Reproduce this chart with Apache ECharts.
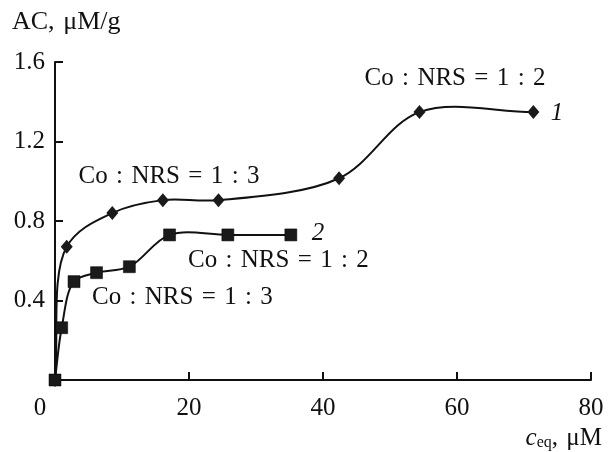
<!DOCTYPE html>
<html><head><meta charset="utf-8">
<script src="https://cdn.jsdelivr.net/npm/echarts@6/dist/echarts.min.js"></script>
<style>html,body{margin:0;padding:0;background:#fff}#c{width:608px;height:452px}</style>
</head><body><div id="c"></div>
<script>
// Data
const ceq1 = [0, 1.75, 8.55, 16.1, 24.4, 42.4, 54.4, 71.4];
const ac1  = [0, 0.67, 0.84, 0.905, 0.905, 1.015, 1.348, 1.348];
const ceq2 = [0, 1.0, 2.84, 6.2, 11.1, 17.1, 25.8, 35.2];
const ac2  = [0, 0.263, 0.495, 0.54, 0.57, 0.73, 0.73, 0.73];
const xTicks = [0, 20, 40, 60, 80];
const yTicks = [0.4, 0.8, 1.2, 1.6];
const SP = '\u2004';
const notes = [
  {text: 'Co : NRS = 1 : 2', x: 455, y: 78, align: 'center'},
  {text: 'Co : NRS = 1 : 3', x: 169, y: 176, align: 'center'},
  {text: 'Co : NRS = 1 : 2', x: 188, y: 260, align: 'left'},
  {text: 'Co : NRS = 1 : 3', x: 92, y: 297, align: 'left'}
];

const FONT = 'Liberation Serif';
const FS = 25;
const toPairs = (xs, ys) => xs.map((x, i) => [x, ys[i]]);

// centripetal Catmull-Rom through pixel points -> SVG path
function splinePath(pts) {
  const n = pts.length;
  const dist = (a, b) => Math.hypot(a[0] - b[0], a[1] - b[1]);
  let d = 'M' + pts[0][0] + ' ' + pts[0][1];
  for (let i = 0; i < n - 1; i++) {
    const p1 = pts[i], p2 = pts[i + 1];
    const p0 = i > 0 ? pts[i - 1] : [2 * p1[0] - p2[0], 2 * p1[1] - p2[1]];
    const p3 = i + 2 < n ? pts[i + 2] : [2 * p2[0] - p1[0], 2 * p2[1] - p1[1]];
    const d1 = Math.sqrt(dist(p0, p1)), d2 = Math.sqrt(dist(p1, p2)), d3 = Math.sqrt(dist(p2, p3));
    const a1 = d1 * d1, a2 = d2 * d2, a3 = d3 * d3;
    const c1 = [0, 1].map(k => (a1 * p2[k] - a2 * p0[k] + (2 * a1 + 3 * d1 * d2 + a2) * p1[k]) / (3 * d1 * (d1 + d2)));
    const c2 = [0, 1].map(k => (a3 * p1[k] - a2 * p3[k] + (2 * a3 + 3 * d3 * d2 + a2) * p2[k]) / (3 * d3 * (d3 + d2)));
    d += ' C' + c1[0] + ' ' + c1[1] + ' ' + c2[0] + ' ' + c2[1] + ' ' + p2[0] + ' ' + p2[1];
  }
  return d;
}
function curveSeries(xs, ys) {
  return {
    type: 'custom', data: toPairs(xs, ys), encode: {x: 0, y: 1}, silent: true, z: 2,
    renderItem: (params, api) => {
      if (params.dataIndex !== 0) return {type: 'group', children: []};
      const pts = xs.map((x, i) => api.coord([x, ys[i]]));
      return {type: 'path', shape: {pathData: splinePath(pts)},
        style: {stroke: '#111', fill: null, lineWidth: 2}};
    }
  };
}

const chart = echarts.init(document.getElementById('c'));
const txt = (s) => s.split(' ').join(SP);
const graphics = notes.map(n => ({
  type: 'text', x: n.x, y: n.y,
  style: {text: txt(n.text), font: FS + 'px "' + FONT + '"', fill: '#111', align: n.align, verticalAlign: 'middle'}
}));
graphics.push({type: 'text', x: 557, y: 113, style: {text: '1', font: 'italic ' + FS + 'px "' + FONT + '"', fill: '#111', align: 'center', verticalAlign: 'middle'}});
graphics.push({type: 'text', x: 318, y: 233, style: {text: '2', font: 'italic ' + FS + 'px "' + FONT + '"', fill: '#111', align: 'center', verticalAlign: 'middle'}});
graphics.push({type: 'text', x: 12, y: 22, style: {text: 'AC,' + SP + 'μM/g', font: '26px "' + FONT + '"', fill: '#111', align: 'left', verticalAlign: 'middle'}});
graphics.push({type: 'text', x: 602, y: 438, style: {
  rich: {
    i: {fontFamily: FONT, fontStyle: 'italic', fontSize: FS, fill: '#111'},
    s: {fontFamily: FONT, fontSize: 16, fill: '#111', verticalAlign: 'bottom', padding: [10, 0, 0, 0]},
    n: {fontFamily: FONT, fontSize: FS, fill: '#111'}
  },
  text: '{i|c}{s|eq}{n|,' + SP + 'μM}', align: 'right', verticalAlign: 'middle'
}});

chart.setOption({
  animation: false,
  grid: {left: 55, right: 17, top: 62, bottom: 72},
  xAxis: {
    type: 'value', min: 0, max: 80, interval: 20,
    axisLine: {lineStyle: {color: '#111', width: 2}},
    axisTick: {inside: true, length: 8, lineStyle: {color: '#111', width: 2}},
    splitLine: {show: false},
    axisLabel: {
      margin: 16, color: '#111', fontFamily: FONT, fontSize: FS,
      formatter: v => v === 0 ? '{z|0}' : String(v),
      rich: {z: {fontFamily: FONT, fontSize: FS, color: '#111', padding: [0, 30, 0, 0]}}
    }
  },
  yAxis: {
    type: 'value', min: 0, max: 1.6, interval: 0.4,
    axisLine: {show: true, lineStyle: {color: '#111', width: 2}},
    axisTick: {show: true, inside: true, length: 8, lineStyle: {color: '#111', width: 2}},
    splitLine: {show: false},
    axisLabel: {
      margin: 10, color: '#111', fontFamily: FONT, fontSize: FS,
      formatter: v => yTicks.includes(Math.round(v * 10) / 10) ? v.toFixed(1) : ''
    }
  },
  graphic: graphics,
  series: [
    curveSeries(ceq1, ac1),
    curveSeries(ceq2, ac2),
    {type: 'scatter', data: toPairs(ceq1, ac1), symbol: 'diamond', symbolSize: [12, 14], z: 3,
     itemStyle: {color: '#1a1a1a', opacity: 1}},
    {type: 'scatter', data: toPairs(ceq2, ac2), symbol: 'rect', symbolSize: 12, z: 4,
     itemStyle: {color: '#1a1a1a', opacity: 1, borderColor: '#000', borderWidth: 0.5}}
  ]
});
</script></body></html>
